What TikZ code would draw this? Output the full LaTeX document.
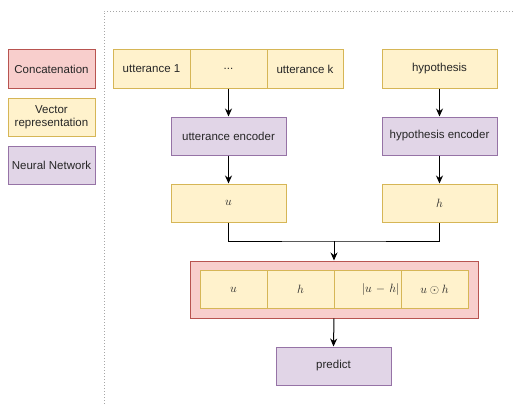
\documentclass[tikz,border=0pt]{standalone}
\usepackage{fontspec}
\setmainfont{Liberation Sans}
\usepackage{xcolor}
\usetikzlibrary{arrows.meta,positioning,calc}
\definecolor{VecFill}{HTML}{FFF2CC}
\definecolor{VecLine}{HTML}{D6B656}
\definecolor{CatFill}{HTML}{F8CECC}
\definecolor{CatLine}{HTML}{B85450}
\definecolor{NetFill}{HTML}{E1D5E7}
\definecolor{NetLine}{HTML}{9673A6}
\tikzset{
  base/.style={rectangle, inner sep=0pt, minimum height=38pt, line width=1pt,
    font=\fontsize{11.5}{13.5}\selectfont, text=black!85},
  vec/.style={base, fill=VecFill, draw=VecLine},
  cat/.style={base, fill=CatFill, draw=CatLine},
  net/.style={base, fill=NetFill, draw=NetLine},
  mathvec/.style={vec, font=\fontsize{12.5}{14}\selectfont},
  flow/.style={line width=1pt, -{Stealth[length=8pt, width=7pt]}}
}

\begin{document}
\begin{tikzpicture}[x=1pt, y=-1pt]
    \useasboundingbox (0,0) rectangle (514,404);
    % frame
    \draw[gray!70, line width=0.8pt, dash pattern=on 1pt off 2pt] (104,404) -- (104,11) -- (514,11);
    % legend
    \node[cat, minimum width=87pt] (legcat) at (51.5,69) {Concatenation};
    \node[vec, minimum width=87pt, align=center] (legvec) at (51.5,117) {Vector\\representation};
    \node[net, minimum width=87pt] (legnet) at (51.5,165) {Neural Network};
    % inputs
    \node[vec, minimum width=77pt] (utt1) at (151.5,69) {utterance 1};
    \node[vec, minimum width=77pt] (uttdots) at (228.5,69) {...};
    \node[vec, minimum width=76pt] (uttk) at (305,69) {utterance k};
    \node[vec, minimum width=115pt] (hyp) at (439.5,69) {hypothesis};
    % encoders
    \node[net, minimum width=115pt] (uenc) at (228.5,136) {utterance encoder};
    \node[net, minimum width=115pt] (henc) at (439.5,136) {hypothesis encoder};
    % vectors
    \node[mathvec, minimum width=115pt] (u) at (228.5,203) {$u$};
    \node[mathvec, minimum width=115pt] (h) at (439.5,203) {$h$};
    % concatenation
    \node[cat, minimum width=288pt, minimum height=57pt] (concat) at (334,289.5) {};
    \node[mathvec, minimum width=67pt] (cu) at (233.5,289.5) {$u$};
    \node[mathvec, minimum width=67pt] (ch) at (300.5,289.5) {$h$};
    \node[mathvec, minimum width=67pt, text width=64pt, align=right] (cdiff) at (367.5,289.5) {$|u-h|$};
    \node[mathvec, minimum width=67pt] (cprod) at (434.5,289.5) {$u\odot h$};
    % output
    \node[net, minimum width=115pt] (predict) at (333.5,366) {predict};
    \coordinate (join) at (334,241);
    \draw[flow] (uttdots) -- (uenc);
    \draw[flow] (hyp) -- (henc);
    \draw[flow] (uenc) -- (u);
    \draw[flow] (henc) -- (h);
    \draw[line width=1pt] (u.south) |- (join) -| (h.south);
    \draw[flow] (join) -- (concat.north);
    \draw[flow] (concat.south) -- (predict.north);
  \end{tikzpicture}
\end{document}
